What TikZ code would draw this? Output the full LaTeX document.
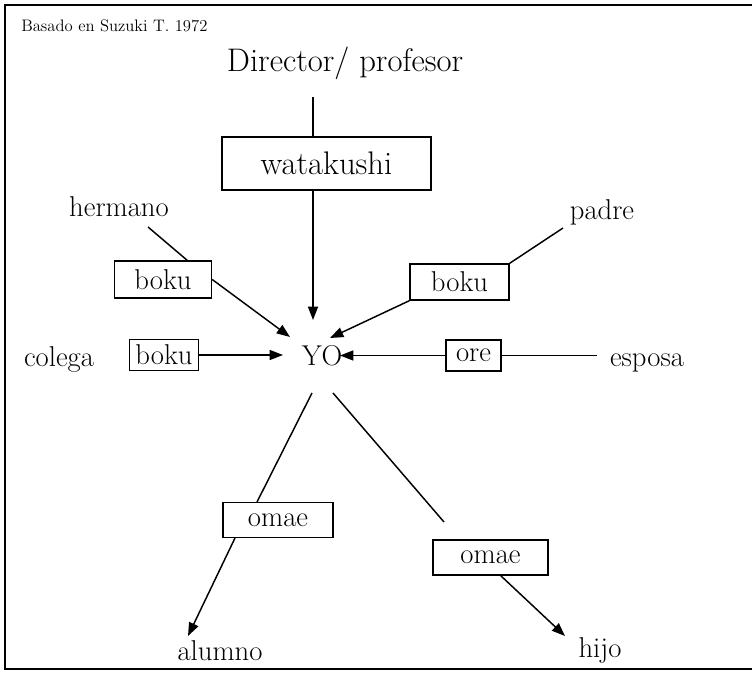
\documentclass[tikz,border=0pt]{standalone}
\usetikzlibrary{arrows.meta,calc}
\begin{document}
\begin{tikzpicture}[x=0.75pt,y=-0.75pt,
  lbl/.style={inner sep=0pt,font=\fontsize{21.5}{25}\selectfont},
  bx/.style={draw,line width=1.1pt,inner sep=0pt,font=\fontsize{21.5}{25}\selectfont},
  conn/.style={line width=1.1pt},
  arr/.style={line width=1.1pt,-{Triangle[length=10pt,width=7.5pt]}},
  frame/.style={line width=2pt}]
\useasboundingbox (0,0) rectangle (752,673);
% frame
\draw[frame] (752,5) -- (5,5) -- (5,669) -- (752,669);
\node[inner sep=0pt,anchor=base west,font=\fontsize{12.5}{15}\selectfont] (src) at (21,32) {Basado en Suzuki T. 1972};

% labels
\node[lbl,anchor=base,font=\fontsize{24.5}{28}\selectfont] (dir) at (345,72) {Director/ profesor};
\node[lbl,anchor=base] (herm) at (119,217) {hermano};
\node[lbl,anchor=base] (padre) at (602,220) {padre};
\node[lbl,anchor=base] (colega) at (59,366) {colega};
\node[lbl,anchor=base] (yo) at (322,365) {YO};
\node[lbl,anchor=base] (esposa) at (647,366) {esposa};
\node[lbl,anchor=base] (alumno) at (220,660) {alumno};
\node[lbl,anchor=base] (hijo) at (600,657) {hijo};

% boxes
\node[bx,minimum width=156.75pt,minimum height=39.75pt,font=\fontsize{24.5}{28}\selectfont] (wat) at (326.5,163.5) {watakushi};
\node[bx,minimum width=72.75pt,minimum height=27.75pt] (bokuA) at (163,279.5) {boku};
\node[bx,minimum width=51.75pt,minimum height=23.25pt] (bokuB) at (164,355) {boku};
\node[bx,minimum width=74.25pt,minimum height=27pt] (bokuC) at (459.5,282) {boku};
\node[bx,minimum width=41.25pt,minimum height=23.25pt] (ore) at (473.5,355.5) {ore};
\node[bx,minimum width=82.5pt,minimum height=26.25pt] (omaeA) at (278,520) {omae};
\node[bx,minimum width=86.25pt,minimum height=26.25pt] (omaeB) at (490.5,557.5) {omae};

% connector end points
\coordinate (d1) at (313,97);
\coordinate (t1) at (313,320);
\coordinate (h1) at (148,227);
\coordinate (h2) at (188,261);
\coordinate (t2) at (290,337);
\coordinate (t3) at (283,355);
\coordinate (p1) at (563,228);
\coordinate (t4) at (330,338);
\coordinate (e1) at (597,355.5);
\coordinate (t5) at (340,355.5);
\coordinate (s1) at (312,393);
\coordinate (a1) at (257,502);
\coordinate (a2) at (235,538);
\coordinate (a3) at (188,636);
\coordinate (s2) at (333,393);
\coordinate (b1) at (444,522);
\coordinate (b2) at (500,575);
\coordinate (b3) at (565,636);

% connectors
\draw[conn] (d1) -- (d1 |- wat.north);
\draw[arr] (d1 |- wat.south) -- (t1);
\draw[conn] (h1) -- (h2);
\draw[arr] (bokuA.east) -- (t2);
\draw[arr] (bokuB.east) -- (t3);
\draw[conn] (p1) -- (bokuC.north east);
\draw[arr] (bokuC.south west) -- (t4);
\draw[conn] (e1) -- (ore.east);
\draw[arr] (ore.west) -- (t5);
\draw[conn] (s1) -- (a1);
\draw[arr] (a2) -- (a3);
\draw[conn] (s2) -- (b1);
\draw[arr] (b2) -- (b3);
\end{tikzpicture}
\end{document}
